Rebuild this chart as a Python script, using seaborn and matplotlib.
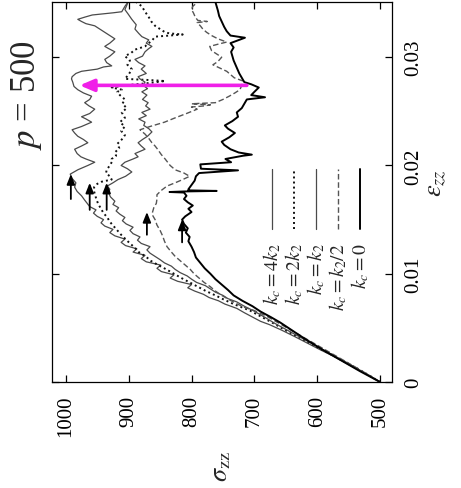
import matplotlib
matplotlib.use("Agg")
import matplotlib.pyplot as plt
import pandas as pd
import seaborn as sns

# ---------------- data (strain eps_zz, stress sigma_zz) ----------------
series_names = ["k_c=4k_2", "k_c=2k_2", "k_c=k_2", "k_c=k_2/2", "k_c=0"]
legend_labels = [r"$k_c{=}4k_2$", r"$k_c{=}2k_2$", r"$k_c{=}k_2$", r"$k_c{=}k_2/2$", r"$k_c{=}0$"]

eps_4k2 = [0.0000, 0.0006, 0.0012, 0.0018, 0.0024, 0.0030, 0.0036, 0.0042, 0.0048, 0.0053,
           0.0056, 0.0060, 0.0064, 0.0068, 0.0072, 0.0075, 0.0078, 0.0081, 0.0084, 0.0087,
           0.0090, 0.0093, 0.0096, 0.0099, 0.0102, 0.0105, 0.0108, 0.0111, 0.0114, 0.0117,
           0.0120, 0.0123, 0.0126, 0.0129, 0.0132, 0.0135, 0.0138, 0.0141, 0.0144, 0.0147,
           0.0150, 0.0153, 0.0156, 0.0159, 0.0162, 0.0165, 0.0168, 0.0172, 0.0176, 0.0180,
           0.0184, 0.0188, 0.0192, 0.0196, 0.0200, 0.0203, 0.0206, 0.0208, 0.0211, 0.0215,
           0.0218, 0.0221, 0.0224, 0.0227, 0.0230, 0.0233, 0.0236, 0.0240, 0.0243, 0.0245,
           0.0248, 0.0252, 0.0255, 0.0258, 0.0261, 0.0264, 0.0267, 0.0270, 0.0273, 0.0277,
           0.0280, 0.0282, 0.0285, 0.0287, 0.0289, 0.0291, 0.0292, 0.0295, 0.0298, 0.0301,
           0.0305, 0.0308, 0.0310, 0.0313, 0.0317, 0.0320, 0.0323, 0.0326, 0.0329, 0.0331,
           0.0333, 0.0335, 0.0337, 0.0339, 0.0341, 0.0342, 0.0345, 0.0347, 0.0351]
sig_4k2 = [500, 518, 537, 556, 575, 596, 616, 636, 657, 676,
           690, 703, 716, 728, 747, 757, 772, 781, 795, 806,
           800, 822, 834, 828, 848, 855, 849, 872, 880, 874,
           893, 887, 905, 912, 906, 922, 930, 925, 938, 944,
           940, 950, 956, 952, 962, 966, 970, 975, 982, 986,
           984, 990, 993, 981, 965, 954, 968, 976, 982, 986,
           975, 965, 972, 981, 986, 990, 975, 959, 968, 975,
           962, 954, 963, 970, 962, 959, 972, 981, 987, 989,
           991, 990, 984, 975, 950, 940, 927, 935, 938, 930,
           922, 932, 938, 930, 922, 930, 938, 946, 954, 968,
           975, 981, 970, 958, 925, 911, 908, 906, 901]

eps_2k2 = [0.0000, 0.0006, 0.0012, 0.0018, 0.0024, 0.0030, 0.0036, 0.0042, 0.0048, 0.0054,
           0.0060, 0.0066, 0.0072, 0.0076, 0.0080, 0.0084, 0.0088, 0.0092, 0.0096, 0.0100,
           0.0104, 0.0108, 0.0112, 0.0116, 0.0120, 0.0124, 0.0128, 0.0132, 0.0136, 0.0140,
           0.0144, 0.0148, 0.0152, 0.0156, 0.0160, 0.0164, 0.0168, 0.0172, 0.0176, 0.0180,
           0.0183, 0.0185, 0.0187, 0.0190, 0.0193, 0.0196, 0.0200, 0.0204, 0.0206, 0.0209,
           0.0212, 0.0216, 0.0220, 0.0224, 0.0228, 0.0232, 0.0236, 0.0240, 0.0244, 0.0249,
           0.0253, 0.0257, 0.0261, 0.0265, 0.0268, 0.0270, 0.0272, 0.0274, 0.0276, 0.0278,
           0.0279, 0.0280, 0.0284, 0.0289, 0.0293, 0.0297, 0.0301, 0.0304, 0.0307, 0.0310,
           0.0313, 0.0316, 0.0319, 0.0320, 0.0321, 0.0322, 0.0323, 0.0326, 0.0329, 0.0333,
           0.0338, 0.0342, 0.0347, 0.0351]
sig_2k2 = [500, 517, 535, 554, 573, 593, 612, 631, 651, 669,
           688, 707, 733, 748, 762, 777, 790, 803, 816, 828,
           840, 853, 865, 873, 884, 890, 898, 905, 912, 918,
           924, 930, 934, 940, 944, 948, 951, 953, 955, 955,
           950, 943, 927, 930, 936, 935, 930, 926, 927, 920,
           922, 915, 918, 911, 906, 912, 906, 914, 906, 911,
           903, 910, 906, 914, 918, 911, 927, 906, 870, 842,
           870, 906, 900, 895, 902, 898, 906, 896, 890, 874,
           868, 862, 858, 835, 814, 835, 842, 850, 858, 864,
           869, 874, 879, 888]

eps_k2 = [0.0000, 0.0006, 0.0012, 0.0018, 0.0024, 0.0030, 0.0036, 0.0042, 0.0048, 0.0054,
          0.0060, 0.0066, 0.0070, 0.0074, 0.0077, 0.0080, 0.0083, 0.0086, 0.0089, 0.0092,
          0.0095, 0.0098, 0.0101, 0.0104, 0.0107, 0.0110, 0.0113, 0.0116, 0.0119, 0.0122,
          0.0125, 0.0128, 0.0131, 0.0134, 0.0137, 0.0140, 0.0143, 0.0146, 0.0149, 0.0152,
          0.0155, 0.0158, 0.0161, 0.0164, 0.0167, 0.0171, 0.0175, 0.0178, 0.0181, 0.0184,
          0.0187, 0.0190, 0.0194, 0.0197, 0.0200, 0.0203, 0.0206, 0.0208, 0.0211, 0.0215,
          0.0218, 0.0221, 0.0224, 0.0227, 0.0231, 0.0234, 0.0237, 0.0240, 0.0243, 0.0246,
          0.0249, 0.0252, 0.0255, 0.0258, 0.0261, 0.0265, 0.0268, 0.0271, 0.0274, 0.0277,
          0.0280, 0.0282, 0.0285, 0.0289, 0.0292, 0.0295, 0.0298, 0.0301, 0.0305, 0.0308,
          0.0310, 0.0313, 0.0316, 0.0319, 0.0322, 0.0326, 0.0330, 0.0335, 0.0340, 0.0344,
          0.0348, 0.0351]
sig_k2 = [500, 517, 535, 553, 572, 591, 610, 629, 648, 667,
          684, 702, 716, 728, 742, 750, 762, 770, 778, 792,
          800, 807, 818, 826, 832, 843, 850, 858, 866, 871,
          866, 880, 886, 882, 893, 898, 893, 904, 910, 906,
          914, 920, 916, 925, 922, 929, 932, 930, 934, 925,
          917, 905, 895, 902, 912, 906, 893, 885, 890, 874,
          880, 885, 878, 870, 863, 868, 876, 874, 884, 872,
          879, 866, 873, 869, 878, 871, 879, 870, 877, 874,
          882, 885, 872, 880, 874, 884, 890, 878, 874, 868,
          863, 872, 868, 879, 884, 890, 888, 895, 901, 906,
          903, 901]

eps_k2h = [0.0000, 0.0006, 0.0012, 0.0018, 0.0024, 0.0030, 0.0036, 0.0042, 0.0048, 0.0054,
           0.0060, 0.0066, 0.0069, 0.0072, 0.0076, 0.0080, 0.0084, 0.0088, 0.0092, 0.0096,
           0.0100, 0.0104, 0.0108, 0.0112, 0.0116, 0.0120, 0.0125, 0.0130, 0.0135, 0.0140,
           0.0145, 0.0150, 0.0154, 0.0157, 0.0161, 0.0165, 0.0169, 0.0173, 0.0177, 0.0181,
           0.0184, 0.0187, 0.0190, 0.0193, 0.0196, 0.0200, 0.0203, 0.0206, 0.0210, 0.0215,
           0.0218, 0.0221, 0.0225, 0.0229, 0.0231, 0.0233, 0.0236, 0.0240, 0.0244, 0.0248,
           0.0252, 0.0254, 0.0255, 0.0256, 0.0257, 0.0258, 0.0261, 0.0264, 0.0267, 0.0270,
           0.0274, 0.0278, 0.0281, 0.0284, 0.0287, 0.0290, 0.0293, 0.0296, 0.0300, 0.0303,
           0.0306, 0.0310, 0.0312, 0.0314, 0.0317, 0.0320, 0.0323, 0.0326, 0.0329, 0.0332,
           0.0333, 0.0334, 0.0337, 0.0341, 0.0344, 0.0347, 0.0351]
sig_k2h = [500, 517, 534, 552, 570, 588, 606, 624, 642, 660,
           678, 700, 716, 727, 740, 752, 762, 770, 780, 788,
           796, 802, 810, 818, 826, 832, 839, 843, 846, 850,
           855, 858, 862, 862, 860, 856, 855, 855, 848, 839,
           826, 814, 803, 812, 826, 834, 838, 842, 848, 854,
           858, 863, 868, 874, 878, 882, 866, 843, 826, 808,
           791, 800, 780, 770, 800, 762, 750, 740, 731, 723,
           720, 718, 732, 738, 744, 755, 766, 758, 752, 760,
           768, 771, 758, 744, 758, 768, 776, 782, 786, 791,
           775, 790, 794, 797, 800, 798, 790]

eps_k0 = [0.0000, 0.0005, 0.0010, 0.0015, 0.0020, 0.0025, 0.0030, 0.0035, 0.0040, 0.0045,
          0.0050, 0.0055, 0.0060, 0.0065, 0.0070, 0.0075, 0.0080, 0.0085, 0.0090, 0.0095,
          0.0100, 0.0105, 0.0110, 0.0115, 0.0120, 0.0125, 0.0130, 0.0134, 0.0138, 0.0142,
          0.0146, 0.0150, 0.0153, 0.0157, 0.0160, 0.0163, 0.0166, 0.0169, 0.0172, 0.0175,
          0.01755, 0.0176, 0.01765, 0.0177, 0.0178, 0.0182, 0.0186, 0.0190, 0.0193, 0.01955,
          0.0197, 0.0201, 0.0203, 0.0206, 0.0209, 0.0210, 0.0212, 0.0215, 0.0219, 0.0222,
          0.0226, 0.0230, 0.0234, 0.0237, 0.0241, 0.0245, 0.0249, 0.0253, 0.0257, 0.0261,
          0.0263, 0.0265, 0.0268, 0.0272, 0.0275, 0.0277, 0.0281, 0.0285, 0.0289, 0.0293,
          0.0297, 0.0301, 0.0305, 0.0309, 0.0313, 0.0318, 0.0320, 0.0324, 0.0328, 0.0333,
          0.0338, 0.0343, 0.0351]
sig_k0 = [500, 516, 532, 547, 562, 577, 592, 606, 620, 633,
          646, 659, 674, 690, 703, 719, 733, 742, 752, 762,
          770, 779, 786, 793, 796, 800, 805, 803, 809, 806,
          812, 815, 810, 800, 805, 798, 806, 812, 808, 812,
          835, 812, 760, 805, 805, 800, 795, 793, 788, 726,
          785, 786, 737, 746, 718, 704, 725, 738, 748, 752,
          740, 731, 742, 747, 735, 726, 728, 720, 716, 712,
          683, 705, 700, 693, 705, 716, 720, 724, 727, 730,
          733, 735, 737, 733, 738, 715, 738, 744, 748, 752,
          756, 758, 762]

# yield-point markers (black arrows) and the magenta arrow
yield_sig = [992, 962, 935, 871, 815]
yield_eps_tail = [0.0169, 0.0159, 0.0159, 0.0136, 0.0129]
yield_eps_head = [0.0192, 0.0184, 0.0184, 0.0157, 0.0150]
drop_eps = 0.0274
drop_sig_from = 712
drop_sig_to = 978

sig_ticks = [500, 600, 700, 800, 900, 1000]
eps_ticks = [0, 0.01, 0.02, 0.03]
eps_ticklabels = ["0", "0.01", "0.02", "0.03"]

# ---------------- styling ----------------
sns.set_theme(style="white")
plt.rcParams["font.family"] = ["Liberation Serif", "DejaVu Serif"]
plt.rcParams["mathtext.fontset"] = "stix"

styles = {
    "k_c=4k_2": dict(color="#4a4a4a", lw=0.9, ls="-"),
    "k_c=2k_2": dict(color="#111111", lw=1.4, ls=(0, (1, 1.6))),
    "k_c=k_2": dict(color="#4a4a4a", lw=0.9, ls="-"),
    "k_c=k_2/2": dict(color="#555555", lw=1.0, ls=(0, (4, 2))),
    "k_c=0": dict(color="#000000", lw=1.4, ls="-"),
}

data = {
    "k_c=4k_2": (eps_4k2, sig_4k2),
    "k_c=2k_2": (eps_2k2, sig_2k2),
    "k_c=k_2": (eps_k2, sig_k2),
    "k_c=k_2/2": (eps_k2h, sig_k2h),
    "k_c=0": (eps_k0, sig_k0),
}

W, H = 461, 489
fig = plt.figure(figsize=(W / 100, H / 100), dpi=100)
ax = fig.add_axes([52 / W, 1 - 383 / H, 340 / W, 380 / H])

for name in series_names:
    e, s = data[name]
    df = pd.DataFrame({"eps": e, "sigma": s})
    st = styles[name]
    sns.lineplot(data=df, x="sigma", y="eps", sort=False, orient="y", estimator=None,
                 color=st["color"], linewidth=st["lw"], linestyle=st["ls"],
                 legend=False, ax=ax)

# black arrows at yield points
for s, e0, e1 in zip(yield_sig, yield_eps_tail, yield_eps_head):
    ax.annotate("", xy=(s, e1), xytext=(s, e0),
                arrowprops=dict(arrowstyle="-|>,head_length=0.5,head_width=0.2",
                                color="black", lw=1.3, shrinkA=0, shrinkB=0))

# magenta arrow
ax.annotate("", xy=(drop_sig_to, drop_eps), xytext=(drop_sig_from, drop_eps),
            arrowprops=dict(arrowstyle="-|>,head_length=0.7,head_width=0.3",
                            color="#f020e8", lw=2.6, shrinkA=0, shrinkB=0))

ax.set_xlim(1022, 481)
ax.set_ylim(0, 0.0351)
ax.set_xticks(sig_ticks)
ax.set_xticklabels([str(t) for t in sig_ticks])
ax.set_yticks(eps_ticks)
ax.set_yticklabels(eps_ticklabels)
ax.tick_params(direction="in", length=5, width=0.9, color="black",
               top=True, bottom=True, left=True, right=True,
               labelleft=False, labelright=True, labelsize=15, labelcolor="black")
ax.tick_params(axis="x", labelrotation=90, pad=9)
ax.tick_params(axis="y", labelrotation=90, pad=9)
for lbl in ax.get_yticklabels():
    lbl.set_va("center")
    lbl.set_ha("left")
for sp in ax.spines.values():
    sp.set_color("black")
    sp.set_linewidth(0.9)

ax.set_xlabel(r"$\sigma_{\mathrm{zz}}$", fontsize=19, rotation=90, va="center", ha="center")
ax.xaxis.set_label_coords(0.5, (383 - 466) / 380)
ax.yaxis.set_label_position("right")
ax.set_ylabel(r"$\varepsilon_{zz}$", fontsize=19, rotation=90, va="center", ha="center")
ax.yaxis.set_label_coords((437 - 52) / 340, (383 - 183) / 380)

# legend drawn in gnuplot style (rotated)
leg_x = [(272 - 52) / 340, (294 - 52) / 340, (316 - 52) / 340, (338 - 52) / 340, (360 - 52) / 340]
for name, lab, lx in zip(series_names, legend_labels, leg_x):
    st = styles[name]
    ax.plot([lx, lx], [(383 - 230) / 380, (383 - 170) / 380], transform=ax.transAxes,
            color=st["color"], lw=st["lw"], linestyle=st["ls"])
    ax.text(lx, (383 - 243) / 380, lab, transform=ax.transAxes, rotation=90,
            ha="center", va="top", fontsize=14)

fig.text(27 / W, 1 - 95 / H, r"$p$ = 500", rotation=90, ha="center", va="center", fontsize=25)

fig.savefig("out.png", dpi=100, facecolor="white")
